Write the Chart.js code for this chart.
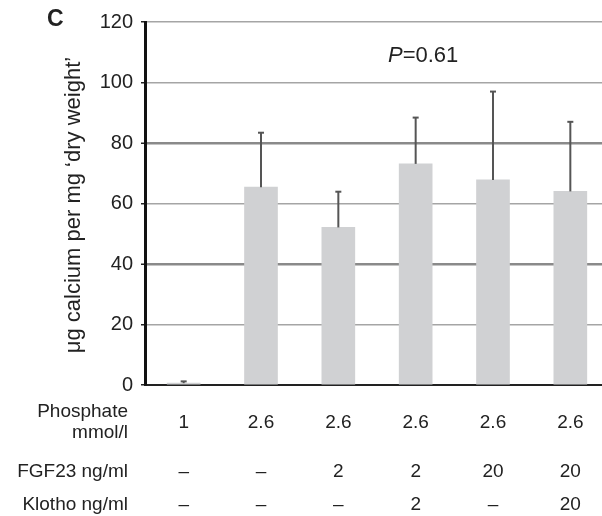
<!DOCTYPE html>
<html>
<head>
<meta charset="utf-8">
<script src="https://cdn.jsdelivr.net/npm/chart.js@4.4.0/dist/chart.umd.min.js"></script>
<style>
html,body{margin:0;padding:0;background:#fff;overflow:hidden;}
#wrap{width:610px;height:516px;}
</style>
</head>
<body>
<div id="wrap"><canvas id="c" width="610" height="516"></canvas></div>
<script>
const phosphate = ['1', '2.6', '2.6', '2.6', '2.6', '2.6'];
const fgf23 = ['–', '–', '2', '2', '20', '20'];
const klotho = ['–', '–', '–', '2', '–', '20'];
const calciumMean = [0.6, 65.4, 52.1, 73.1, 67.8, 64.0];
const calciumSD = [0.6, 18.0, 11.8, 15.3, 29.2, 23.0];
const yTicks = [0, 20, 40, 60, 80, 100, 120];
const rowLabels = [['Phosphate', 'mmol/l'], 'FGF23 ng/ml', 'Klotho ng/ml'];
const pText = ['P', '=0.61'];
const panelLetter = 'C';
const yTitle = 'μg calcium per mg ‘dry weight’';

const FONT = '"Liberation Sans", Arial, sans-serif';

const overlay = {
  id: 'overlay',
  afterDatasetsDraw(chart) {
    const ctx = chart.ctx;
    const x = chart.scales.x, y = chart.scales.y;
    ctx.save();
    ctx.strokeStyle = '#555';
    ctx.lineWidth = 2;
    calciumMean.forEach((m, i) => {
      const cx = x.getPixelForTick(i);
      const y0 = y.getPixelForValue(m);
      const y1 = y.getPixelForValue(m + calciumSD[i]);
      ctx.beginPath();
      ctx.moveTo(cx, y0);
      ctx.lineTo(cx, y1);
      ctx.stroke();
      ctx.beginPath();
      ctx.moveTo(cx - 3, y1);
      ctx.lineTo(cx + 3, y1);
      ctx.stroke();
    });
    ctx.restore();
  },
  afterDraw(chart) {
    const ctx = chart.ctx;
    const x = chart.scales.x;
    ctx.save();
    ctx.fillStyle = '#222';
    ctx.font = '19px ' + FONT;
    ctx.textBaseline = 'middle';
    ctx.textAlign = 'right';
    ctx.fillText(rowLabels[0][0], 128, 412);
    ctx.fillText(rowLabels[0][1], 128, 433);
    ctx.fillText(rowLabels[1], 128, 472);
    ctx.fillText(rowLabels[2], 128, 505);
    ctx.textAlign = 'center';
    const rows = [[phosphate, 423], [fgf23, 472], [klotho, 505]];
    rows.forEach(([arr, yy]) => {
      arr.forEach((t, i) => {
        ctx.fillText(t, x.getPixelForTick(i), yy);
      });
    });
    ctx.textAlign = 'left';
    ctx.font = 'italic 22px ' + FONT;
    ctx.fillText(pText[0], 388, 56);
    const pw = ctx.measureText(pText[0]).width;
    ctx.font = '22px ' + FONT;
    ctx.fillText(pText[1], 388 + pw, 56);
    ctx.font = 'bold 23px ' + FONT;
    ctx.fillText(panelLetter, 47, 20);
    ctx.translate(74, 205);
    ctx.rotate(-Math.PI / 2);
    ctx.textAlign = 'center';
    ctx.font = '22px ' + FONT;
    ctx.fillText(yTitle, 0, 0);
    ctx.restore();
  }
};

new Chart(document.getElementById('c'), {
  type: 'bar',
  data: {
    labels: phosphate.map((p, i) => i),
    datasets: [{
      data: calciumMean,
      backgroundColor: '#d0d1d3',
      borderWidth: 0,
      barThickness: 33
    }]
  },
  options: {
    responsive: false,
    animation: false,
    events: [],
    layout: { padding: { top: 22, right: 1, left: 0, bottom: 0 } },
    plugins: { legend: { display: false }, tooltip: { enabled: false }, title: { display: false } },
    scales: {
      x: {
        type: 'category',
        offset: true,
        grid: { display: false },
        border: { display: true, color: '#222', width: 2 },
        ticks: { display: false },
        afterFit: s => { s.height = 131; }
      },
      y: {
        min: 0, max: 120,
        afterBuildTicks: s => { s.ticks = yTicks.map(v => ({ value: v })); },
        grid: {
          color: c => (c.tick && (c.tick.value === 80 || c.tick.value === 40)) ? '#8a8a8a' : '#a5a5a5',
          lineWidth: c => (c.tick && (c.tick.value === 80 || c.tick.value === 40)) ? 2.5 : 1.5,
          tickColor: '#222',
          tickLength: 4,
          tickWidth: 1.5
        },
        border: { display: true, color: '#111', width: 3 },
        ticks: {
          padding: 8,
          color: '#222',
          font: { family: FONT, size: 20 }
        },
        afterFit: s => { s.width = 145; }
      }
    }
  },
  plugins: [overlay]
});
</script>
</body>
</html>
